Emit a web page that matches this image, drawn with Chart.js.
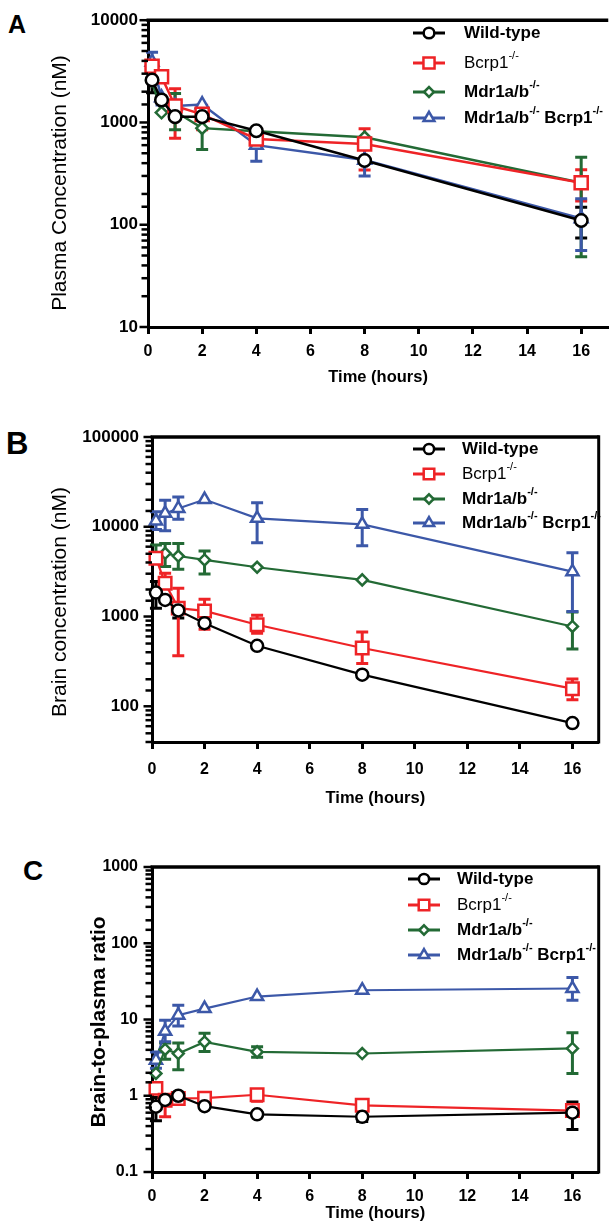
<!DOCTYPE html>
<html><head><meta charset="utf-8">
<script src="https://cdn.jsdelivr.net/npm/chart.js@4.4.1/dist/chart.umd.min.js"></script>
<style>
html,body{margin:0;padding:0;width:610px;height:1227px;overflow:hidden;background:#fff;}
canvas{position:absolute;left:0;}
.lbl{position:absolute;font-family:'Liberation Sans',Arial,sans-serif;font-weight:bold;color:#000;line-height:1;}
</style></head><body>
<div class="lbl" style="left:8px;top:12px;font-size:25px">A</div>
<div class="lbl" style="left:6px;top:428px;font-size:31px">B</div>
<div class="lbl" style="left:23px;top:857px;font-size:28px">C</div>
<canvas id="cA" width="620" height="400" style="top:0px"></canvas>
<canvas id="cB" width="610" height="420" style="top:400px"></canvas>
<canvas id="cC" width="610" height="407" style="top:820px"></canvas>
<script>
// ---------- DATA ----------
const times = [0.15, 0.5, 1, 2, 4, 8, 16];
const xTicks = [0, 2, 4, 6, 8, 10, 12, 14, 16];
const seriesNames = ['Wild-type', 'Bcrp1-/-', 'Mdr1a/b-/-', 'Mdr1a/b-/- Bcrp1-/-'];
const legendLabels = [
  [['Wild-type', 0]],
  [['Bcrp1', 0], ['-/-', 1]],
  [['Mdr1a/b', 0], ['-/-', 1]],
  [['Mdr1a/b', 0], ['-/-', 1], [' Bcrp1', 0], ['-/-', 1]]
];

// Panel A: plasma concentration (nM)
const plasmaWT     = [2600, 1660, 1140, 1140, 830, 425, 110];
const plasmaWTHi   = [3400, null, null, null, null, null, 148];
const plasmaWTLo   = [1950, null, null, null, null, null, 74];
const plasmaBcrp   = [3550, 2800, 1450, 1200, 690, 616, 257];
const plasmaBcrpHi = [null, null, 2140, 1470, null, 870, 345];
const plasmaBcrpLo = [null, null, 700, 850, null, 343, 171];
const plasmaMdr    = [2550, 1250, 1280, 880, 820, 716, 257];
const plasmaMdrHi  = [null, null, 1920, null, null, null, 458];
const plasmaMdrLo  = [null, null, 850, 545, null, null, 48.5];
const plasmaDKO    = [3900, 1750, 1450, 1500, 600, 430, 115];
const plasmaDKOHi  = [4850, null, null, null, null, null, 179];
const plasmaDKOLo  = [null, 1480, null, null, 417, 300, 56];

// Panel B: brain concentration (nM)
const brainWT     = [1850, 1530, 1170, 843, 472, 225, 65];
const brainWTHi   = [2450, null, null, null, null, null, null];
const brainWTLo   = [1240, null, 960, null, null, 210, null];
const brainBcrp   = [4460, 2350, 1240, 1155, 810, 446, 157];
const brainBcrpHi = [5000, 3030, 2070, 1560, 1030, 672, 201];
const brainBcrpLo = [3900, null, 366, 720, 650, 300, 118];
const brainMdr    = [4640, 5060, 4720, 4270, 3540, 2560, 775];
const brainMdrHi  = [6270, 6500, 6500, 5370, null, null, 1120];
const brainMdrLo  = [null, 3600, 3360, 2980, null, null, 435];
const brainDKO    = [11600, 14100, 16000, 20100, 12400, 10650, 3160];
const brainDKOHi  = [14700, 19800, 21500, null, 18500, 15600, 5140];
const brainDKOLo  = [9300, 9000, 12100, null, 6640, 6160, 1140];

// Panel C: brain-to-plasma ratio
const ratioWT     = [0.72, 0.88, 1.0, 0.73, 0.57, 0.53, 0.6];
const ratioWTHi   = [0.95, null, null, null, null, null, 0.83];
const ratioWTLo   = [0.47, null, null, null, null, 0.46, 0.36];
const ratioBcrp   = [1.25, 0.875, 0.92, 0.93, 1.03, 0.75, 0.64];
const ratioBcrpHi = [null, null, null, null, 1.2, null, null];
const ratioBcrpLo = [null, 0.53, 0.85, null, 0.85, null, null];
const ratioMdr    = [1.96, 4.05, 3.58, 5.08, 3.76, 3.58, 4.17];
const ratioMdrHi  = [null, 4.9, 4.9, 6.6, 4.4, null, 6.7];
const ratioMdrLo  = [null, 3.0, 2.2, 3.8, 3.2, null, 1.96];
const ratioDKO    = [2.93, 7.0, 11.4, 13.9, 20, 24.2, 25.5];
const ratioDKOHi  = [3.76, 9.8, 15.4, null, null, null, 35.5];
const ratioDKOLo  = [2.3, 5.1, 8.2, null, null, null, 17.9];

// ---------- STYLE ----------
const FONT = "'Liberation Sans', Arial, sans-serif";
const colors = ['#000000', '#ee2326', '#236a35', '#3c58a8'];
const styles = ['circle', 'rect', 'rectRot', 'triangle'];
const radii = [6, 8.8, 5.5, 7];
const legendBold = [true, false, true, true];

function isDecade(v) { const l = Math.log10(v); return Math.abs(l - Math.round(l)) < 1e-6; }
function fmt(v) { return v >= 1 ? String(Math.round(v)) : String(+v.toPrecision(3)); }

const errorBars = {
  id: 'errorBars',
  beforeDatasetsDraw(chart, args, o) {
    const ctx = chart.ctx, xs = chart.scales.x, ys = chart.scales.y;
    chart.data.datasets.forEach(ds => {
      ctx.save();
      ctx.strokeStyle = ds.borderColor; ctx.lineWidth = o.width; ctx.lineCap = 'butt';
      ds.data.forEach((p, j) => {
        const px = xs.getPixelForValue(p.x), py = ys.getPixelForValue(p.y);
        [ds.errHi[j], ds.errLo[j]].forEach(b => {
          if (b == null) return;
          const pb = ys.getPixelForValue(b);
          ctx.beginPath();
          ctx.moveTo(px, py); ctx.lineTo(px, pb);
          ctx.moveTo(px - o.cap, pb); ctx.lineTo(px + o.cap, pb);
          ctx.stroke();
        });
      });
      ctx.restore();
    });
  }
};

const frame = {
  id: 'frame',
  afterDraw(chart, args, o) {
    const ctx = chart.ctx, a = chart.chartArea, ys = chart.scales.y;
    ctx.save();
    ctx.strokeStyle = '#000';
    ctx.lineWidth = o.topW;
    ctx.beginPath(); ctx.moveTo(a.left - 1.5, a.top); ctx.lineTo(a.right, a.top); ctx.stroke();
    if (o.right) {
      ctx.lineWidth = o.rightW;
      ctx.beginPath(); ctx.moveTo(a.right, a.top - o.topW / 2); ctx.lineTo(a.right, a.bottom + 1.5); ctx.stroke();
    }
    ctx.lineWidth = 2.5;
    ys.ticks.forEach(t => {
      const py = ys.getPixelForValue(t.value);
      const len = isDecade(t.value) ? 7 : 5;
      ctx.beginPath(); ctx.moveTo(a.left - len - 1.5, py); ctx.lineTo(a.left, py); ctx.stroke();
    });
    ctx.translate(o.ytX, o.ytY); ctx.rotate(-Math.PI / 2);
    ctx.font = o.ytFont; ctx.fillStyle = '#000'; ctx.textAlign = 'center'; ctx.textBaseline = 'middle';
    ctx.fillText(o.ytText, 0, 0);
    ctx.restore();
    chart.data.datasets.forEach((ds, i) => {
      const y = o.rows[i];
      ctx.save();
      ctx.strokeStyle = ds.borderColor; ctx.lineWidth = o.legLineW;
      ctx.beginPath(); ctx.moveTo(o.lx1, y); ctx.lineTo(o.lx2, y); ctx.stroke();
      ctx.fillStyle = '#fff'; ctx.lineWidth = 2.5;
      Chart.helpers.drawPoint(ctx, {pointStyle: ds.pointStyle, radius: ds.pointRadius * 0.85, borderWidth: 2.5, rotation: 0}, (o.lx1 + o.lx2) / 2, y);
      let x = o.tx;
      ctx.fillStyle = '#000'; ctx.textBaseline = 'middle'; ctx.textAlign = 'left';
      legendLabels[i].forEach(([txt, sup]) => {
        const w = legendBold[i] ? 'bold ' : '';
        ctx.font = sup ? w + '11px ' + FONT : w + '17px ' + FONT;
        ctx.fillText(txt, x, sup ? y - 7 : y);
        x += ctx.measureText(txt).width;
      });
      ctx.restore();
    });
  }
};

function makeChart(id, c) {
  const datasets = c.series.map((s, i) => ({
    label: seriesNames[i],
    data: times.map((t, j) => ({x: t, y: s[0][j]})),
    errHi: s[1], errLo: s[2],
    borderColor: colors[i], backgroundColor: '#fff',
    pointStyle: styles[i], pointRadius: radii[i] * c.scale, pointHoverRadius: radii[i] * c.scale,
    pointBorderWidth: 2.5, pointBackgroundColor: '#fff', pointBorderColor: colors[i],
    borderWidth: c.lineW, tension: 0, clip: false
  }));
  return new Chart(document.getElementById(id), {
    type: 'line',
    data: {datasets},
    plugins: [errorBars, frame],
    options: {
      responsive: false, animation: false, devicePixelRatio: 1,
      layout: {padding: {top: c.top, right: c.W - c.right, left: 0, bottom: 0}},
      plugins: {legend: {display: false}, tooltip: {enabled: false},
        errorBars: {width: 3, cap: 6},
        frame: Object.assign({topW: 3.5, rightW: 3, legLineW: 3}, c.frame)},
      scales: {
        x: {type: 'linear', min: 0, max: 17,
          afterBuildTicks: s => { s.ticks = xTicks.map(v => ({value: v})); },
          afterFit: s => { s.height = c.H - c.bottom; },
          ticks: {font: {family: FONT, size: 16, weight: 'bold'}, color: '#000', padding: c.xPad, autoSkip: false, maxRotation: 0},
          grid: {display: true, drawOnChartArea: false, drawTicks: true, tickLength: 7, tickWidth: 3, tickColor: '#000', color: '#000'},
          border: {display: true, width: 3, color: '#000'},
          title: {display: true, text: 'Time (hours)', color: '#000', font: {family: FONT, size: 16.5, weight: 'bold'}, padding: {top: 0, bottom: c.xtPad}}
        },
        y: {type: 'logarithmic', min: c.ymin, max: c.ymax,
          afterFit: s => { s.width = c.left; },
          ticks: {font: {family: FONT, size: c.yFont, weight: 'bold'}, color: '#000', padding: c.yPad, autoSkip: false,
            callback: v => isDecade(v) ? fmt(v) : ''},
          grid: {display: false, drawTicks: false},
          border: {display: true, width: 3, color: '#000'}
        }
      }
    }
  });
}

makeChart('cA', {
  W: 620, H: 400, left: 148, top: 17, right: 613, bottom: 327, ymin: 10, ymax: 10000,
  scale: 1.05, lineW: 2.5, xPad: 8, xtPad: 13, yPad: 10, yFont: 17,
  series: [[plasmaWT, plasmaWTHi, plasmaWTLo], [plasmaBcrp, plasmaBcrpHi, plasmaBcrpLo],
           [plasmaMdr, plasmaMdrHi, plasmaMdrLo], [plasmaDKO, plasmaDKOHi, plasmaDKOLo]],
  frame: {right: false, ytText: 'Plasma Concentration (nM)', ytX: 60, ytY: 183, ytFont: '21px ' + FONT,
    rows: [33, 63, 92, 118], lx1: 413, lx2: 445, tx: 464}
});
makeChart('cB', {
  W: 610, H: 420, left: 152, top: 37, right: 608, bottom: 342, ymin: 40, ymax: 100000,
  scale: 1, lineW: 2.2, xPad: 11, xtPad: 12, yPad: 13, yFont: 17,
  series: [[brainWT, brainWTHi, brainWTLo], [brainBcrp, brainBcrpHi, brainBcrpLo],
           [brainMdr, brainMdrHi, brainMdrLo], [brainDKO, brainDKOHi, brainDKOLo]],
  frame: {right: true, ytText: 'Brain concentration (nM)', ytX: 60, ytY: 202, ytFont: '21px ' + FONT,
    rows: [49, 74, 99, 123], lx1: 413, lx2: 445, tx: 462}
});
makeChart('cC', {
  W: 610, H: 407, left: 152, top: 47, right: 608, bottom: 352, ymin: 0.1, ymax: 1000,
  scale: 1, lineW: 2.2, xPad: 8, xtPad: 4, yPad: 14, yFont: 16,
  series: [[ratioWT, ratioWTHi, ratioWTLo], [ratioBcrp, ratioBcrpHi, ratioBcrpLo],
           [ratioMdr, ratioMdrHi, ratioMdrLo], [ratioDKO, ratioDKOHi, ratioDKOLo]],
  frame: {right: true, ytText: 'Brain-to-plasma ratio', ytX: 99, ytY: 202, ytFont: 'bold 21px ' + FONT,
    rows: [59, 85, 110, 135], lx1: 408, lx2: 440, tx: 457}
});
</script>
</body></html>
